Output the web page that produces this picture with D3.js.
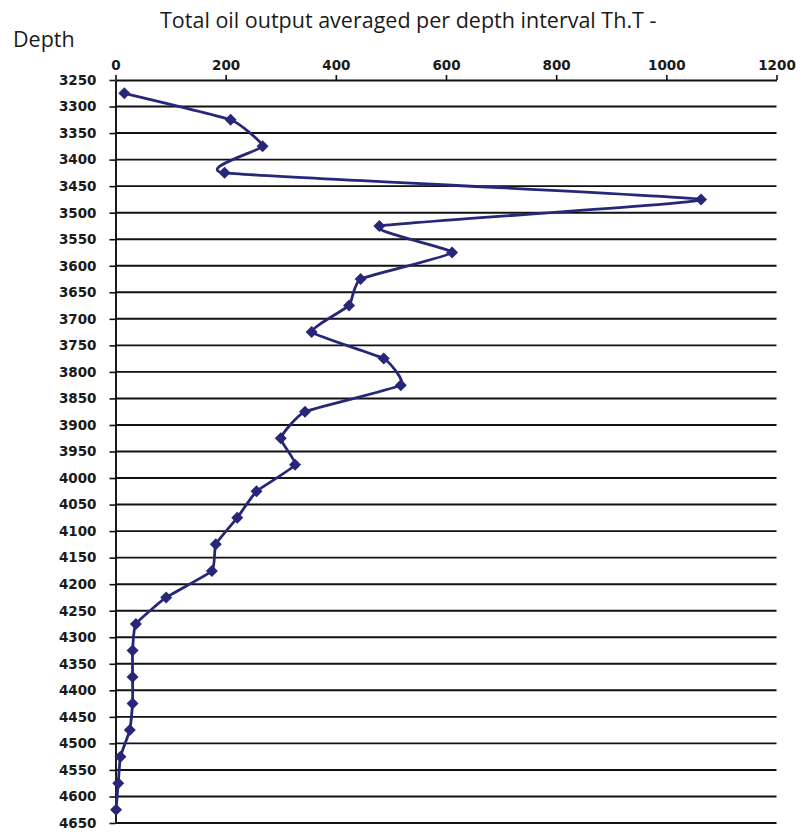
<!DOCTYPE html>
<html>
<head>
<meta charset="utf-8">
<script src="https://cdn.jsdelivr.net/npm/d3@7"></script>
<style>
body{margin:0;background:#fff;}
svg text{font-family:"DejaVu Sans",Verdana,sans-serif;}
</style>
</head>
<body>
<div class="chart"></div>
<script>
var width=810,
    height=832;

// depth interval midpoints (m) and averaged oil output
var depths=[3275,3325,3375,3425,3475,3525,3575,3625,3675,3725,3775,3825,3875,3925,3975,
            4025,4075,4125,4175,4225,4275,4325,4375,4425,4475,4525,4575,4625];
var output=[16,209,267,198,1063,479,611,445,424,356,487,518,344,300,326,
            256,221,182,175,92,37,31,31,31,26,9,5,1];
var xTicks=[0,200,400,600,800,1000,1200];
var yTicks=d3.range(3250,4651,50);

var svg=d3.select('.chart')
    .append('svg')
        .attr('width',width)
        .attr('height',height);

var x=d3.scaleLinear().domain([0,1200]).range([115.5,776.5]);
var y=d3.scaleLinear().domain([3250,4650]).range([80,823]);

// horizontal grid lines
svg.append('g')
    .selectAll('line')
    .data(yTicks.slice(1))
    .enter()
    .append('line')
    .attr('x1',x(0))
    .attr('x2',x(1200))
    .attr('y1',d=>y(d))
    .attr('y2',d=>y(d))
    .attr('stroke','#111')
    .attr('stroke-width',1.9);

var xAxis=svg.append('g')
    .attr('transform',`translate(0,${y(3250)})`)
    .call(d3.axisTop(x).tickValues(xTicks).tickFormat(d3.format('d'))
        .tickSize(5).tickPadding(5).tickSizeOuter(0));

var yAxis=svg.append('g')
    .attr('transform',`translate(${x(0)},0)`)
    .call(d3.axisLeft(y).tickValues(yTicks).tickFormat(d3.format('d'))
        .tickSize(6).tickPadding(13).tickSizeOuter(0));

[xAxis,yAxis].forEach(a=>{
    a.select('.domain').attr('stroke','#111').attr('stroke-width',1.9);
    a.selectAll('.tick line').attr('stroke','#111').attr('stroke-width',1.6);
    a.selectAll('text')
        .attr('fill','#1a1a1a')
        .style('font-size','13.5px')
        .style('font-weight','bold');
});

var line=d3.line()
    .x(d=>x(d[1]))
    .y(d=>y(d[0]))
    .curve(d3.curveCardinal.tension(0.6));

var pts=depths.map((d,i)=>[d,output[i]]);

svg.append('path')
    .datum(pts)
    .attr('fill','none')
    .attr('stroke','#27277a')
    .attr('stroke-width',2.8)
    .attr('d',line);

var marker=d3.symbol().type(d3.symbolSquare).size(72);

svg.selectAll('.pt')
    .data(pts)
    .enter()
    .append('path')
    .classed('pt',true)
    .attr('transform',d=>`translate(${x(d[1])},${y(d[0])}) rotate(45)`)
    .attr('d',marker)
    .attr('fill','#27277a');

svg.append('text')
    .attr('x',160)
    .attr('y',28)
    .style('font-family','"Open Sans",sans-serif')
    .style('font-size','21.5px')
    .attr('fill','#1a1a1a')
    .text('Total oil output averaged per depth interval Th.T -');

svg.append('text')
    .attr('x',13)
    .attr('y',47)
    .style('font-family','"Open Sans",sans-serif')
    .style('font-size','21.5px')
    .attr('fill','#1a1a1a')
    .text('Depth');
</script>
</body>
</html>
